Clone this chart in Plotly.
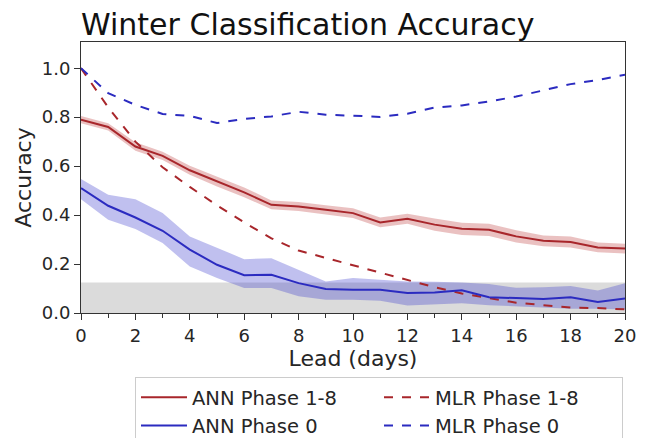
import plotly.graph_objects as go

lead = list(range(21))

ann18 = [0.79, 0.76, 0.68, 0.642, 0.583, 0.537, 0.493, 0.442, 0.435, 0.422, 0.408,
         0.370, 0.385, 0.361, 0.344, 0.340, 0.313, 0.295, 0.290, 0.268, 0.263]
ann18_err = [0.015, 0.015, 0.017, 0.017, 0.018, 0.02, 0.02, 0.018, 0.018, 0.018, 0.02,
             0.02, 0.02, 0.025, 0.025, 0.025, 0.025, 0.022, 0.022, 0.02, 0.02]

ann0 = [0.510, 0.438, 0.390, 0.336, 0.259, 0.197, 0.154, 0.156, 0.122, 0.098, 0.095,
        0.095, 0.082, 0.084, 0.093, 0.064, 0.061, 0.057, 0.064, 0.045, 0.059]
ann0_hi = [0.547, 0.483, 0.465, 0.408, 0.313, 0.265, 0.220, 0.224, 0.177, 0.129, 0.143,
           0.135, 0.129, 0.128, 0.125, 0.118, 0.103, 0.105, 0.110, 0.092, 0.122]
ann0_lo = [0.465, 0.381, 0.343, 0.286, 0.190, 0.143, 0.102, 0.102, 0.068, 0.054, 0.054,
           0.050, 0.031, 0.035, 0.040, 0.032, 0.027, 0.020, 0.017, 0.017, 0.014]

mlr18 = [1.0, 0.84, 0.70, 0.595, 0.515, 0.44, 0.37, 0.305, 0.255, 0.225, 0.195,
         0.163, 0.136, 0.105, 0.080, 0.061, 0.042, 0.032, 0.022, 0.020, 0.015]
mlr0 = [1.0, 0.898, 0.850, 0.813, 0.805, 0.776, 0.793, 0.803, 0.822, 0.810, 0.806,
        0.801, 0.814, 0.839, 0.848, 0.864, 0.884, 0.909, 0.935, 0.952, 0.973]

chance = 0.125

RED = "#a8262b"
BLUE = "#2b2bc0"
RED_FILL = "rgba(178,34,34,0.28)"
BLUE_FILL = "rgba(60,60,205,0.32)"
FONT = "DejaVu Sans"
TXT = "#262626"

fig = go.Figure()

# bands
fig.add_trace(go.Scatter(x=lead, y=[a + e for a, e in zip(ann18, ann18_err)],
                         mode="lines", line=dict(width=0), showlegend=False, hoverinfo="skip"))
fig.add_trace(go.Scatter(x=lead, y=[a - e for a, e in zip(ann18, ann18_err)],
                         mode="lines", line=dict(width=0), fill="tonexty",
                         fillcolor=RED_FILL, showlegend=False, hoverinfo="skip"))
fig.add_trace(go.Scatter(x=lead, y=ann0_hi, mode="lines", line=dict(width=0),
                         showlegend=False, hoverinfo="skip"))
fig.add_trace(go.Scatter(x=lead, y=ann0_lo, mode="lines", line=dict(width=0),
                         fill="tonexty", fillcolor=BLUE_FILL, showlegend=False, hoverinfo="skip"))

fig.add_trace(go.Scatter(x=lead, y=ann18, mode="lines", name="ANN Phase 1-8",
                         line=dict(color=RED, width=2)))
fig.add_trace(go.Scatter(x=lead, y=mlr18, mode="lines", name="MLR Phase 1-8",
                         line=dict(color=RED, width=2, dash="dash")))
fig.add_trace(go.Scatter(x=lead, y=ann0, mode="lines", name="ANN Phase 0",
                         line=dict(color=BLUE, width=2)))
fig.add_trace(go.Scatter(x=lead, y=mlr0, mode="lines", name="MLR Phase 0",
                         line=dict(color=BLUE, width=2, dash="dash")))

fig.add_shape(type="rect", xref="x", yref="y", x0=0, x1=20, y0=0, y1=chance,
              fillcolor="rgba(190,190,190,0.55)", line=dict(width=0), layer="below")

fig.update_layout(
    width=648, height=438,
    margin=dict(l=81, r=13, t=42, b=125),
    paper_bgcolor="white", plot_bgcolor="white",
    font=dict(family=FONT, color=TXT, size=18),
    title=dict(text="Winter Classification Accuracy", font=dict(size=30, color="#111"),
               xref="paper", x=0, xanchor="left", yref="container", y=1 - 24 / 438,
               yanchor="middle"),
    showlegend=True,
    legend=dict(orientation="h", xref="container", yref="container",
                x=135 / 648, y=1 - 377 / 438, xanchor="left", yanchor="top",
                bgcolor="white", bordercolor="#cccccc", borderwidth=1,
                font=dict(size=19.5, color=TXT), entrywidth=182, itemwidth=46,
                tracegroupgap=0, traceorder="normal"),
)

fig.update_xaxes(range=[0, 20], tickvals=list(range(0, 21, 2)), ticks="outside",
                 ticklen=6, tickcolor="#333", tickwidth=1,
                 minor=dict(dtick=1, ticks="outside", ticklen=3.5, tickcolor="#333"),
                 showline=True, linecolor="#333", linewidth=1, mirror=True,
                 showgrid=False, zeroline=False,
                 title=dict(text="Lead (days)", font=dict(size=22), standoff=4),
                 tickfont=dict(size=18))
fig.update_yaxes(range=[0, 1.107], tickvals=[0, 0.2, 0.4, 0.6, 0.8, 1.0],
                 tickformat=".1f", ticks="outside", ticklen=6, tickcolor="#333",
                 showline=True, linecolor="#333", linewidth=1, mirror=True,
                 showgrid=False, zeroline=False,
                 title=dict(text="Accuracy", font=dict(size=22), standoff=4),
                 tickfont=dict(size=18))

fig.write_html("out.html")
